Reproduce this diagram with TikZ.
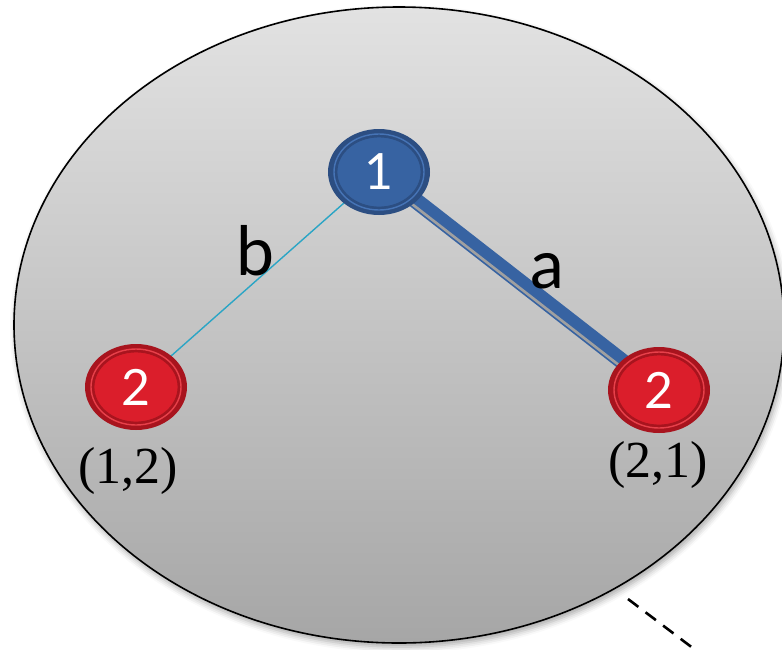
\documentclass[tikz,border=0pt]{standalone}
\usepackage{fontspec}
\setmainfont{Liberation Serif}
\newfontfamily\lblfont{Lato}
\usetikzlibrary{shapes.geometric,shadows.blur}
\pgfdeclarelayer{back}
\pgfdeclarelayer{bg}
\pgfsetlayers{back,bg,main}
\definecolor{ellTop}{RGB}{226,226,226}
\definecolor{ellBot}{RGB}{166,166,166}
\definecolor{blueOuter}{RGB}{44,78,130}
\definecolor{blueInner}{RGB}{55,99,162}
\definecolor{blueRing}{RGB}{70,116,182}
\definecolor{redOuter}{RGB}{168,20,30}
\definecolor{redInner}{RGB}{219,30,43}
\definecolor{redRing}{RGB}{232,64,74}
\definecolor{cyanLine}{RGB}{43,165,197}
\definecolor{bandBlue}{RGB}{55,99,162}
\definecolor{stripeGray}{RGB}{160,160,160}
\tikzset{
  vtx/.style={ellipse, minimum width=102pt, minimum height=86pt, inner sep=0pt,
    text=white, font=\lblfont\fontsize{50}{50}\selectfont},
  bluevtx/.style={vtx, fill=blueOuter,
    path picture={
      \draw[blueRing, line width=1.4pt] (path picture bounding box.center) ellipse [x radius=45pt, y radius=38pt];
      \fill[blueInner] (path picture bounding box.center) ellipse [x radius=42pt, y radius=35pt];
      \draw[blueOuter, line width=0.8pt] (path picture bounding box.center) ellipse [x radius=42pt, y radius=35pt];
    }},
  redvtx/.style={vtx, fill=redOuter,
    path picture={
      \draw[redRing, line width=1.4pt] (path picture bounding box.center) ellipse [x radius=45pt, y radius=38pt];
      \fill[redInner] (path picture bounding box.center) ellipse [x radius=42pt, y radius=35pt];
      \draw[redOuter, line width=0.8pt] (path picture bounding box.center) ellipse [x radius=42pt, y radius=35pt];
    }},
  edgelbl/.style={anchor=base, inner sep=0pt, font=\lblfont\fontsize{68}{68}\selectfont},
  coordlbl/.style={anchor=base, inner sep=0pt, font=\fontsize{52}{52}\selectfont},
  thinedge/.style={cyanLine, line width=1.4pt},
  bandedge/.style={bandBlue, line width=16pt},
  stripeedge/.style={stripeGray, line width=2.6pt},
  dashedge/.style={black, line width=2.6pt, dash pattern=on 13pt off 9pt},
}
\begin{document}
\begin{tikzpicture}[x=1pt,y=-1pt]
\useasboundingbox (0,0) rectangle (782,649);
\begin{pgfonlayer}{back}
\path[draw=black, line width=1.6pt, top color=ellTop, bottom color=ellBot,
  blur shadow={shadow xshift=2pt, shadow yshift=-4pt, shadow blur radius=6pt, shadow opacity=35}]
  (399,325) ellipse [x radius=385pt, y radius=318pt];
\end{pgfonlayer}

\node[bluevtx] (n1) at (379,172) {1};
\node[redvtx] (n2) at (136,387) {2};
\node[redvtx] (n3) at (659,390) {2};

\begin{pgfonlayer}{bg}
\draw[thinedge] (n1.center) -- (n2.center);
\draw[bandedge] (n1.center) -- (n3.center);
\draw[stripeedge] ([shift={(-3.1,3.9)}]n1.center) -- ([shift={(-3.1,3.9)}]n3.center);
\end{pgfonlayer}

\node[edgelbl] (la) at (547,288) {a};
\node[edgelbl] (lb) at (256,275) {b};
\node[coordlbl] (c12) at (128,483) {(1,2)};
\node[coordlbl] (c21) at (658,477) {(2,1)};

\coordinate (d1) at (628,599);
\coordinate (d2) at (702,655);
\draw[dashedge] (d1) -- (d2);
\end{tikzpicture}
\end{document}
